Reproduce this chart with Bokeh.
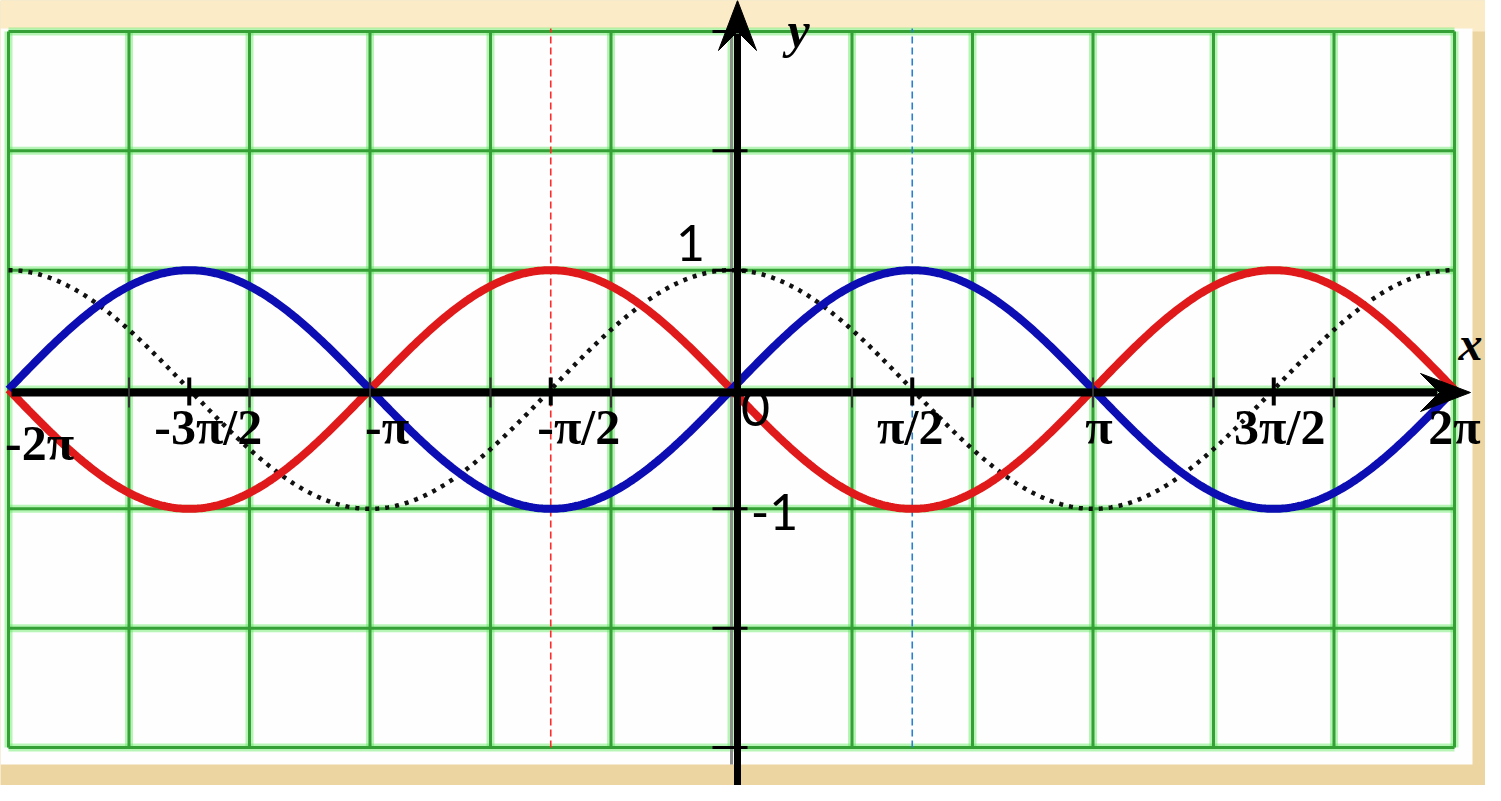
import numpy as np
from bokeh.plotting import figure
from bokeh.models import Range1d, ColumnDataSource
from bokeh.core.properties import value
from bokeh.embed import file_html
from bokeh.resources import INLINE

PI = np.pi

# ---------------- data ----------------
# labelled x ticks, in multiples of pi
tick_multiples = [-2, -1.5, -1, -0.5, 0.5, 1, 1.5, 2]
tick_labels = ["-2π", "-3π/2", "-π", "-π/2", "π/2", "π", "3π/2", "2π"]
# grid: vertical lines every pi/3, horizontal lines every 1
grid_x_steps = [-6, -5, -4, -3, -2, -1, 0, 1, 2, 3, 4, 5, 6]   # units of pi/3
grid_y_values = [-3, -2, -1, 0, 1, 2, 3]
y_tick_values = [-3, -2, -1, 1, 2, 3]
y_label_values = [1, 0, -1]
y_label_texts = ["1", "0", "-1"]
x_domain = [-2 * PI, 2 * PI]
# the plotted functions: y = sin x (blue), y = -sin x (red), y = cos x (dotted)
curve_names = ["sin", "minus_sin", "cos"]

# ---------------- layout ----------------
W, H = 1485, 785
X0, Y0 = 731, 389            # canvas pixel of the origin
SX, SY = 361.5 / PI, 119.33  # pixels per data unit
def dx(px): return px / SX
def dy(px): return px / SY

p = figure(width=W, height=H,
           x_range=Range1d(-X0 / SX, (W - X0) / SX),
           y_range=Range1d(-(H - Y0) / SY, Y0 / SY),
           output_backend="svg", toolbar_location=None, min_border=0)
p.axis.visible = False
p.grid.visible = False
p.outline_line_color = None
p.background_fill_color = "#ecd5a0"
p.border_fill_color = "#ecd5a0"

xr0, xr1 = p.x_range.start, p.x_range.end
yr0, yr1 = p.y_range.start, p.y_range.end

# beige lighter top strip
p.quad(left=xr0, right=xr1, bottom=3, top=yr1, fill_color="#fbebc7", line_color=None)

# white panel
panel_l, panel_r = xr0, x_domain[1] + dx(18)
panel_b, panel_t = -3 - dy(17), 3 + dy(3)
p.quad(left=panel_l, right=panel_r, bottom=panel_b, top=panel_t,
       fill_color="#fefefe", line_color=None)

# green grid
gx = [k * PI / 3 for k in grid_x_steps]
gy = grid_y_values
for w, c, a in [(8, "#5fec5f", 0.45), (3, "#35a035", 1.0)]:
    p.segment(x0=gx, y0=[gy[0]] * len(gx), x1=gx, y1=[gy[-1]] * len(gx),
              line_color=c, line_width=w, line_alpha=a)
    p.segment(x0=[x_domain[0]] * len(gy), y0=gy, x1=[x_domain[1]] * len(gy), y1=gy,
              line_color=c, line_width=w, line_alpha=a)

# dashed verticals at -pi/2 (red) and pi/2 (blue)
p.segment(x0=[-PI / 2], y0=[-3], x1=[-PI / 2], y1=[panel_t],
          line_color="#ff2a2a", line_width=1.6, line_dash="7 4")
p.segment(x0=[PI / 2], y0=[-3], x1=[PI / 2], y1=[panel_t],
          line_color="#2a7fd0", line_width=1.6, line_dash="7 4")

# gray line behind the y axis
p.segment(x0=[0], y0=[panel_b], x1=[0], y1=[panel_t], line_color="#8c8c8c", line_width=3)

# curves
xs = np.linspace(x_domain[0], x_domain[1], 721)
curves = {"sin": np.sin(xs), "minus_sin": -np.sin(xs), "cos": np.cos(xs)}
p.line(xs, curves["cos"], line_color="#111111", line_width=4.5, line_dash="4 6")
p.line(xs, curves["minus_sin"], line_color="#e01a1a", line_width=8)
p.line(xs, curves["sin"], line_color="#0d0db4", line_width=8)

# axes with arrow heads
ax_y = -dy(3)
ay_x = dx(6)
x_tip = x_domain[1] + dx(16)
y_tip = 3 + dy(31)
L, HW, N = 50, 19, 31   # head length, half width, notch distance from tip (px)
p.segment(x0=[x_domain[0] + dx(3)], y0=[ax_y], x1=[x_tip - dx(N + 2)], y1=[ax_y],
          line_color="black", line_width=8)
p.patch([x_tip, x_tip - dx(L), x_tip - dx(N), x_tip - dx(L)],
        [ax_y, ax_y + dy(HW), ax_y, ax_y - dy(HW)],
        fill_color="black", line_color="black", line_width=1)
p.segment(x0=[ay_x], y0=[yr0 - 1], x1=[ay_x], y1=[y_tip - dy(N + 2)],
          line_color="black", line_width=7)
p.patch([ay_x, ay_x - dx(HW), ay_x, ay_x + dx(HW)],
        [y_tip, y_tip - dy(L), y_tip - dy(N), y_tip - dy(L)],
        fill_color="black", line_color="black", line_width=1)

# small grey ticks at grid positions on x axis
small = [k * PI / 3 for k in grid_x_steps if k not in (-6, 0, 6)]
p.segment(x0=small, y0=[ax_y + dy(15)] * len(small), x1=small, y1=[ax_y - dy(15)] * len(small),
          line_color="#333333", line_width=2)
# bold ticks at labelled half-pi positions
bt = [m * PI for m in tick_multiples if m in (-1.5, -0.5, 0.5, 1.5)]
p.segment(x0=bt, y0=[ax_y + dy(15)] * len(bt), x1=bt, y1=[ax_y - dy(13)] * len(bt),
          line_color="black", line_width=4)
# y ticks
p.segment(x0=[ay_x - dx(25)] * len(y_tick_values), y0=y_tick_values,
          x1=[ay_x + dx(10)] * len(y_tick_values), y1=y_tick_values,
          line_color="black", line_width=3)

# x tick labels
lab_dx = [31, 19, 17, 28, -2, 6, 6, 0]
lab_dy = [16, 0, 0, 0, 0, 0, 0, 0]
src = ColumnDataSource(dict(x=[m * PI for m in tick_multiples],
                            y=[ax_y - dy(34)] * len(tick_multiples),
                            t=tick_labels, xo=lab_dx, yo=lab_dy))
p.text(x="x", y="y", text="t", x_offset="xo", y_offset="yo", source=src,
       text_font=value("Liberation Serif"), text_font_style="bold",
       text_font_size="50px", text_align="center", text_baseline="alphabetic",
       text_color="black")

# y value labels 1, 0, -1
ysrc = ColumnDataSource(dict(x=[dx(-41), dx(24), dx(43)],
                             y=[v + dy(o) for v, o in zip(y_label_values, [27, -18, -3])],
                             t=y_label_texts))
p.text(x="x", y="y", text="t", source=ysrc, text_font=value("Lato"),
       text_font_size="50px", text_align="center", text_baseline="alphabetic",
       text_color="black")

# axis names
p.text(x=[dx(67)], y=[yr1 - dy(1)], text=["y"], text_font=value("Liberation Serif"),
       text_font_style="bold italic", text_font_size="50px", text_align="center",
       text_baseline="top", text_color="black")
p.text(x=[x_tip], y=[ax_y + dy(49)], text=["x"],
       text_font=value("Liberation Serif"), text_font_style="bold italic",
       text_font_size="48px", text_align="center", text_baseline="alphabetic",
       text_color="black")

open("out.html", "w").write(file_html(p, INLINE))
